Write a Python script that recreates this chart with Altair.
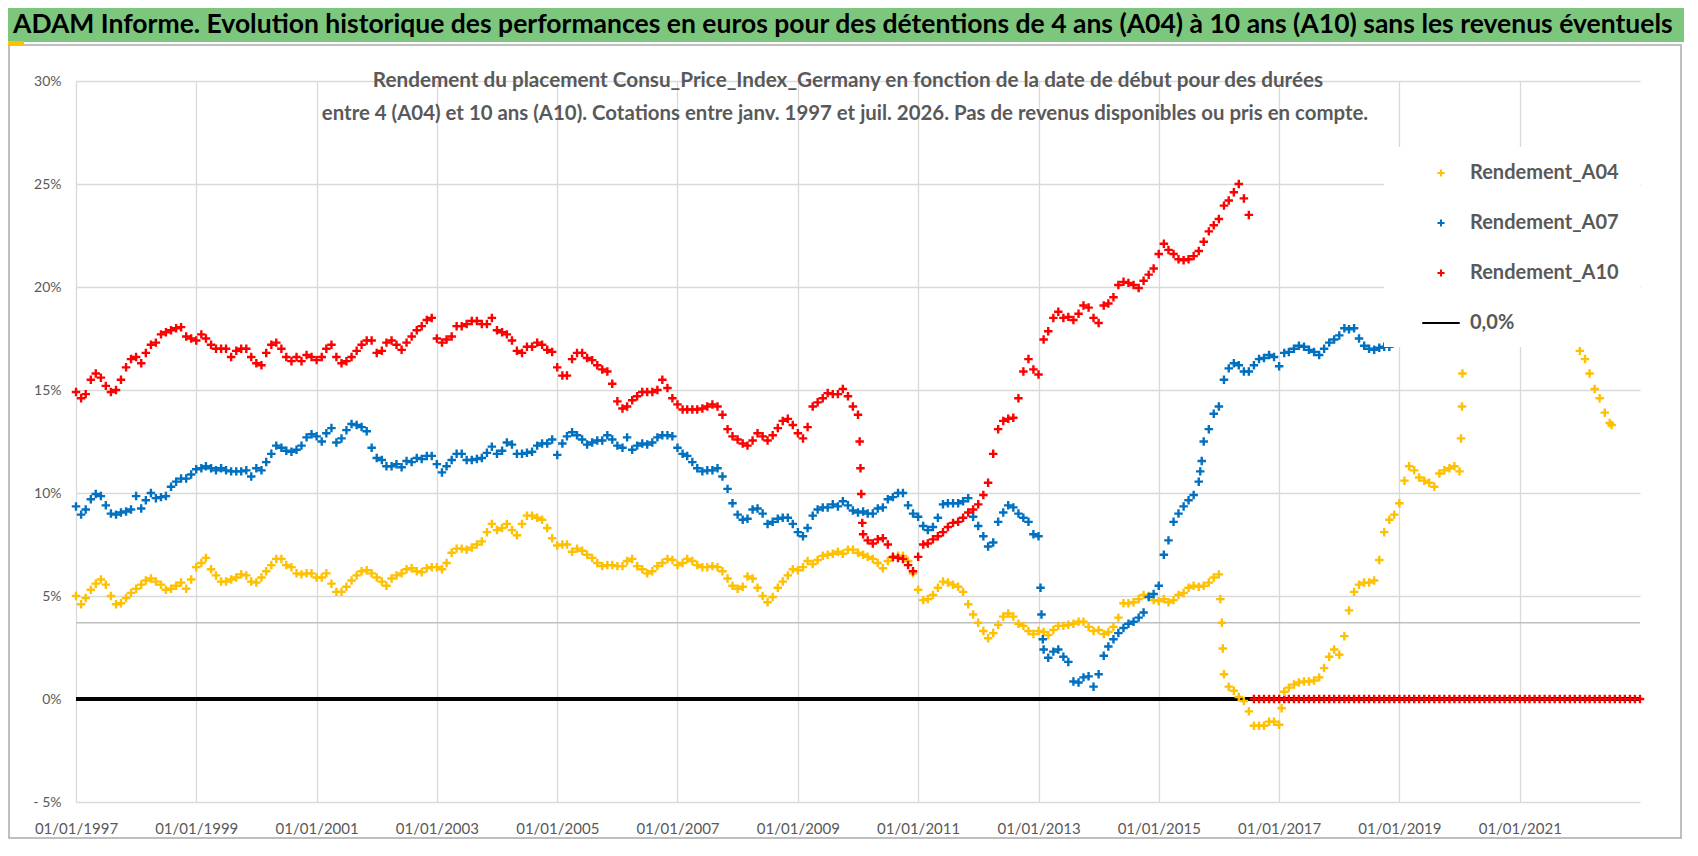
import altair as alt
import pandas as pd

# ---------------- data ----------------
SERIES = ["Rendement_A04", "Rendement_A07", "Rendement_A10", "0,0%"]
COLORS = ["#FFC000", "#0070C0", "#FF0000", "#000000"]

x_ticks = [1997, 1999, 2001, 2003, 2005, 2007, 2009, 2011, 2013, 2015, 2017, 2019, 2021]
y_ticks = [-5, 0, 5, 10, 15, 20, 25, 30]

# Rendement_A04, monthly from 1997-01
a04_start = "1997-01-01"
a04_values = [
    5.0, 4.6, 4.9, 5.3, 5.6, 5.8, 5.55, 5.0, 4.6, 4.65,
    4.9, 5.15, 5.35, 5.55, 5.75, 5.85, 5.7, 5.55, 5.3, 5.35,
    5.5, 5.65, 5.35, 5.8, 6.4, 6.6, 6.85, 6.3, 6.0, 5.7,
    5.7, 5.8, 5.9, 6.05, 6.0, 5.7, 5.65, 5.9, 6.2, 6.5,
    6.8, 6.8, 6.5, 6.4, 6.1, 6.05, 6.1, 6.1, 5.9, 5.9,
    6.1, 5.6, 5.2, 5.2, 5.45, 5.75, 6.0, 6.2, 6.25, 6.1,
    5.9, 5.7, 5.5, 5.85, 6.0, 6.1, 6.3, 6.35, 6.2, 6.15,
    6.35, 6.4, 6.4, 6.3, 6.6, 7.1, 7.3, 7.3, 7.25, 7.35,
    7.5, 7.65, 8.1, 8.5, 8.2, 8.3, 8.5, 8.2, 7.95, 8.5,
    8.9, 8.9, 8.8, 8.7, 8.3, 7.8, 7.45, 7.5, 7.5, 7.15,
    7.3, 7.2, 7.0, 6.85, 6.6, 6.45, 6.5, 6.5, 6.45, 6.45,
    6.7, 6.8, 6.45, 6.3, 6.1, 6.2, 6.45, 6.6, 6.8, 6.75,
    6.5, 6.6, 6.8, 6.7, 6.5, 6.4, 6.4, 6.45, 6.4, 6.2,
    5.85, 5.5, 5.35, 5.45, 5.95, 5.85, 5.4, 5.0, 4.7, 4.95,
    5.4, 5.7, 6.0, 6.3, 6.25, 6.4, 6.7, 6.55, 6.75, 6.95,
    7.0, 7.05, 7.15, 7.05, 7.25, 7.25, 7.1, 7.0, 6.9, 6.8,
    6.6, 6.35, 6.7, 6.85, 6.95, 6.95, 6.7, 6.1, 5.3, 4.8,
    4.85, 5.05, 5.4, 5.7, 5.65, 5.55, 5.45, 5.2, 4.6, 4.1,
    3.7, 3.3, 2.95, 3.2, 3.6, 4.0, 4.15, 4.0, 3.65, 3.55,
    3.3, 3.15, 3.3, 3.25, 3.1, 3.35, 3.55, 3.55, 3.6, 3.65,
    3.75, 3.75, 3.5, 3.3, 3.35, 3.15, 3.25, 3.5, 3.95, 4.65,
    4.65, 4.7, 4.85, 5.05, 5.0, 4.8, 4.75, 4.85, 4.7, 4.8,
    5.05, 5.15, 5.4, 5.5, 5.45, 5.5, 5.65, 5.9, 6.05, 1.2,
    0.6, 0.4, 0.1, -0.1, -0.6, -1.3, -1.3, -1.3, -1.1, -1.1,
    -1.25, 0.35, 0.55, 0.7, 0.8, 0.85, 0.85, 0.9, 1.05, 1.5,
    2.05, 2.4, 2.15, 3.05, 4.3, 5.2, 5.55, 5.65, 5.65, 5.75,
    6.75, 8.1, 8.7, 8.95, 9.5, 10.6, 11.3, 11.1, 10.75, 10.6,
    10.5, 10.3, 10.95, 11.1, 11.2, 11.3, 11.05,
]
a04_late_start = "2022-01-01"
a04_late_values = [16.9, 16.5, 15.8, 15.05, 14.6, 13.9, 13.4]
a04_extra_dates = ["2016-01-10", "2016-01-19", "2016-01-25", "2017-01-16",
                   "2020-01-10", "2020-01-16", "2020-01-19", "2022-07-13"]
a04_extra_values = [4.85, 3.7, 2.45, -0.45, 12.65, 14.2, 15.8, 13.3]

# Rendement_A07, monthly from 1997-01
a07_start = "1997-01-01"
a07_values = [
    9.35, 8.95, 9.2, 9.7, 9.95, 9.85, 9.4, 9.0, 8.95, 9.05,
    9.1, 9.2, 9.85, 9.25, 9.65, 10.0, 9.75, 9.8, 9.85, 10.3,
    10.55, 10.7, 10.7, 10.9, 11.15, 11.2, 11.3, 11.2, 11.1, 11.2,
    11.1, 11.05, 11.05, 11.05, 11.1, 10.8, 11.2, 11.1, 11.5, 11.9,
    12.3, 12.2, 12.05, 12.0, 12.1, 12.3, 12.7, 12.85, 12.75, 12.5,
    12.9, 13.15, 12.45, 12.65, 13.05, 13.35, 13.3, 13.2, 13.0, 12.2,
    11.7, 11.6, 11.3, 11.3, 11.4, 11.25, 11.55, 11.5, 11.7, 11.65,
    11.8, 11.8, 11.4, 11.0, 11.3, 11.6, 11.9, 11.9, 11.6, 11.6,
    11.65, 11.7, 11.95, 12.25, 11.9, 12.05, 12.45, 12.35, 11.9, 11.9,
    11.95, 12.0, 12.3, 12.4, 12.4, 12.6, 11.85, 12.4, 12.75, 12.95,
    12.8, 12.6, 12.35, 12.45, 12.55, 12.55, 12.8, 12.6, 12.3, 12.2,
    12.7, 12.1, 12.3, 12.4, 12.35, 12.45, 12.7, 12.8, 12.8, 12.75,
    12.2, 11.9, 11.8, 11.5, 11.2, 11.05, 11.1, 11.1, 11.2, 10.8,
    10.2, 9.5, 8.95, 8.7, 8.75, 9.2, 9.25, 9.0, 8.5, 8.6,
    8.75, 8.8, 8.8, 8.5, 8.1, 7.9, 8.3, 8.9, 9.2, 9.3,
    9.3, 9.45, 9.35, 9.6, 9.4, 9.15, 9.05, 9.1, 9.0, 9.0,
    9.25, 9.3, 9.7, 9.8, 10.0, 10.0, 9.4, 9.0, 8.85, 8.4,
    8.2, 8.35, 8.8, 9.45, 9.5, 9.5, 9.5, 9.6, 9.75, 8.85,
    8.4, 7.9, 7.4, 7.6, 8.6, 9.05, 9.4, 9.3, 9.0, 8.8,
    8.6, 8.0, 7.9, 2.4, 2.0, 2.3, 2.4, 2.05, 1.8, 0.85,
    0.8, 1.05, 1.1, 0.6, 1.2, 2.1, 2.55, 2.9, 3.2, 3.45,
    3.65, 3.75, 3.95, 4.2, 4.95, 5.1, 5.5, 7.0, 7.7, 8.6,
    9.0, 9.35, 9.65, 9.9, 10.55, 12.5, 13.1, 13.85, 14.2, 15.5,
    16.05, 16.3, 16.2, 15.9, 15.9, 16.2, 16.5, 16.55, 16.7, 16.6,
    16.15, 16.8, 16.85, 17.0, 17.15, 17.1, 16.95, 16.85, 16.7, 17.0,
    17.3, 17.45, 17.65, 18.0, 17.95, 18.0, 17.5, 17.15, 17.0, 16.95,
    17.05, 17.1, 17.1,
]
a07_extra_dates = ["2013-01-13", "2013-01-19", "2013-01-27", "2015-09-10", "2015-09-19"]
a07_extra_values = [5.4, 4.1, 2.9, 11.05, 11.55]

# Rendement_A10, monthly from 1997-01
a10_start = "1997-01-01"
a10_values = [
    14.9, 14.6, 14.8, 15.5, 15.8, 15.6, 15.2, 14.9, 15.0, 15.5,
    16.1, 16.5, 16.6, 16.3, 16.8, 17.2, 17.3, 17.7, 17.8, 17.9,
    18.0, 18.05, 17.6, 17.5, 17.4, 17.7, 17.5, 17.2, 17.0, 17.0,
    17.0, 16.6, 16.9, 17.0, 17.0, 16.6, 16.3, 16.2, 16.8, 17.2,
    17.3, 17.0, 16.6, 16.4, 16.6, 16.4, 16.7, 16.6, 16.45, 16.6,
    17.0, 17.2, 16.6, 16.3, 16.4, 16.6, 16.9, 17.2, 17.4, 17.4,
    16.8, 16.9, 17.3, 17.4, 17.2, 16.95, 17.3, 17.6, 17.9, 18.1,
    18.4, 18.5, 17.5, 17.3, 17.45, 17.6, 18.1, 18.1, 18.2, 18.35,
    18.35, 18.2, 18.2, 18.5, 17.9, 17.8, 17.7, 17.4, 16.9, 16.8,
    17.1, 17.1, 17.3, 17.2, 16.95, 16.85, 16.1, 15.7, 15.7, 16.5,
    16.8, 16.8, 16.55, 16.45, 16.2, 16.0, 15.9, 15.3, 14.45, 14.1,
    14.2, 14.5, 14.7, 14.9, 14.9, 14.9, 15.0, 15.5, 15.1, 14.6,
    14.3, 14.05, 14.05, 14.05, 14.05, 14.1, 14.2, 14.3, 14.2, 13.8,
    13.1, 12.75, 12.6, 12.4, 12.3, 12.55, 12.9, 12.75, 12.55, 12.8,
    13.15, 13.5, 13.6, 13.3, 12.9, 12.65, 13.2, 14.2, 14.4, 14.6,
    14.85, 14.8, 14.8, 15.05, 14.7, 14.2, 13.8, 8.0, 7.7, 7.55,
    7.75, 7.8, 7.5, 6.9, 6.85, 6.8, 6.5, 6.2, 6.9, 7.5,
    7.55, 7.75, 7.9, 8.1, 8.35, 8.55, 8.6, 8.8, 9.05, 9.2,
    9.45, 9.9, 10.5, 11.9, 13.1, 13.5, 13.6, 13.65, 14.6, 15.9,
    16.5, 16.0, 15.75, 17.45, 17.85, 18.5, 18.8, 18.5, 18.55, 18.4,
    18.7, 19.1, 19.0, 18.5, 18.25, 19.1, 19.2, 19.5, 20.1, 20.25,
    20.2, 20.1, 19.95, 20.3, 20.6, 20.9, 21.6, 22.1, 21.8, 21.6,
    21.35, 21.3, 21.35, 21.5, 21.75, 22.2, 22.7, 23.0, 23.3, 23.95,
    24.2, 24.6, 25.0, 24.3, 23.5,
]
a10_extra_dates = ["2010-01-11", "2010-01-16", "2010-01-21", "2010-01-27"]
a10_extra_values = [12.5, 11.2, 9.95, 8.55]
# after its last quotation the A10 series is plotted at 0 until the end of the axis
a10_zero_start = "2016-08-01"
a10_zero_end = "2023-01-01"
a10_zero_value = 0.0

zero_line_dates = ["1997-01-01", "2023-01-01"]
zero_line_values = [0.0, 0.0]
odd_line_values = [3.7]

TITLE = ("ADAM Informe. Evolution historique des performances en euros pour des "
         "détentions de 4 ans (A04) à 10 ans (A10) sans les revenus éventuels")
SUB1 = ("Rendement du placement Consu_Price_Index_Germany en fonction de la date "
        "de début pour des durées")
SUB2 = ("entre 4 (A04) et 10 ans (A10). Cotations entre janv. 1997 et juil. 2026. "
        "Pas de revenus disponibles ou pris en compte.")

# ---------------- build tables ----------------
def monthly(start, values, name):
    return pd.DataFrame({"date": pd.date_range(start, periods=len(values), freq="MS"),
                         "value": values, "serie": name})


def dated(dates, values, name):
    return pd.DataFrame({"date": pd.to_datetime(dates), "value": values, "serie": name})


zero_dates = pd.date_range(a10_zero_start, a10_zero_end, freq="MS")
df_points = pd.concat([
    pd.DataFrame({"date": zero_dates, "value": a10_zero_value, "serie": SERIES[2]}),
    monthly(a04_start, a04_values, SERIES[0]),
    monthly(a04_late_start, a04_late_values, SERIES[0]),
    dated(a04_extra_dates, a04_extra_values, SERIES[0]),
    monthly(a07_start, a07_values, SERIES[1]),
    dated(a07_extra_dates, a07_extra_values, SERIES[1]),
    monthly(a10_start, a10_values, SERIES[2]),
    dated(a10_extra_dates, a10_extra_values, SERIES[2]),
], ignore_index=True)

df_zero = dated(zero_line_dates, zero_line_values, SERIES[3])
df_odd = pd.DataFrame({"value": odd_line_values})

PLUS = "M-1,0L1,0M0,-1L0,1"
DASH = "M-5.3,0L5.3,0"
W, H = 1564, 721

color_scale = alt.Scale(domain=SERIES, range=COLORS)
shape_scale = alt.Scale(domain=SERIES, range=[PLUS, PLUS, PLUS, DASH])
legend = alt.Legend(
    title=None, orient="none", legendX=1355, legendY=82,
    labelFont="Lato", labelFontSize=20, labelFontWeight="bold", labelColor="#595959",
    symbolSize=50, symbolStrokeWidth=2, labelOffset=19, rowPadding=30, padding=0,
)

x_enc = alt.X("date:T", title=None,
              scale=alt.Scale(domain=[alt.DateTime(year=1997, month=1, date=1),
                                      alt.DateTime(year=2023, month=1, date=1)], nice=False),
              axis=alt.Axis(values=[alt.DateTime(year=y, month=1, date=1) for y in x_ticks],
                            format="%d/%m/%Y", labelFontSize=15, labelPadding=19,
                            labelFlush=False, labelOverlap=False))
y_enc = alt.Y("value:Q", title=None,
              scale=alt.Scale(domain=[-5, 30], nice=False, zero=False),
              axis=alt.Axis(values=y_ticks, labelFontSize=14, labelPadding=15,
                            labelExpr="datum.value < 0 ? '- ' + abs(datum.value) + '%' : datum.value + '%'"))

odd_rule = alt.Chart(df_odd).mark_rule(color="#BFBFBF", strokeWidth=1.5).encode(y="value:Q")

zero_line = alt.Chart(df_zero).mark_line(strokeWidth=4).encode(
    x=x_enc, y=y_enc,
    color=alt.Color("serie:N", scale=color_scale, legend=legend),
)

points = alt.Chart(df_points).mark_point(filled=False, size=72, strokeWidth=2.4,
                                         opacity=1).encode(
    x=x_enc, y=y_enc,
    color=alt.Color("serie:N", scale=color_scale, legend=legend),
    shape=alt.Shape("serie:N", scale=shape_scale, legend=legend),
)

one = pd.DataFrame({"k": [0]})
legend_box = alt.Chart(one).mark_rect(color="white").encode(
    x=alt.value(1308), x2=alt.value(W), y=alt.value(66), y2=alt.value(266))

frame = alt.Chart(one).mark_rect(fill=None, stroke="#ABABAB", strokeWidth=1.5).encode(
    x=alt.value(-67), x2=alt.value(1605), y=alt.value(-36), y2=alt.value(757))

band = alt.Chart(one).mark_rect(color="#7DC67D").encode(
    x=alt.value(-68), x2=alt.value(1610), y=alt.value(-73), y2=alt.value(-39))

handle = alt.Chart(one).mark_rect(color="#FFC000").encode(
    x=alt.value(-68), x2=alt.value(-52), y=alt.value(-40), y2=alt.value(-36))

title = alt.Chart(pd.DataFrame({"t": [TITLE]})).mark_text(
    font="Lato", fontSize=26.5, fontWeight="bold", color="#000000", align="left",
    baseline="middle").encode(text="t:N", x=alt.value(-63), y=alt.value(-56))

sub1 = alt.Chart(pd.DataFrame({"t": [SUB1]})).mark_text(
    font="Lato", fontSize=20.7, fontWeight="bold", color="#595959", align="center",
    baseline="middle").encode(text="t:N", x=alt.value(772), y=alt.value(0))

sub2 = alt.Chart(pd.DataFrame({"t": [SUB2]})).mark_text(
    font="Lato", fontSize=20.4, fontWeight="bold", color="#595959", align="center",
    baseline="middle").encode(text="t:N", x=alt.value(769), y=alt.value(33))

chart = alt.layer(
    odd_rule, zero_line, points, legend_box, frame, band, handle, title, sub1, sub2
).properties(
    width=W, height=H,
    autosize=alt.AutoSizeParams(type="none"),
    padding={"left": 68, "top": 73, "right": 44, "bottom": 38},
    background="white",
).configure_view(stroke=None).configure_axis(
    grid=True, gridColor="#D9D9D9", gridWidth=1.3, domain=False, ticks=False,
    labelFont="Lato", labelColor="#595959",
)

chart.save("out.html", embed_options={"renderer": "svg", "actions": False})
